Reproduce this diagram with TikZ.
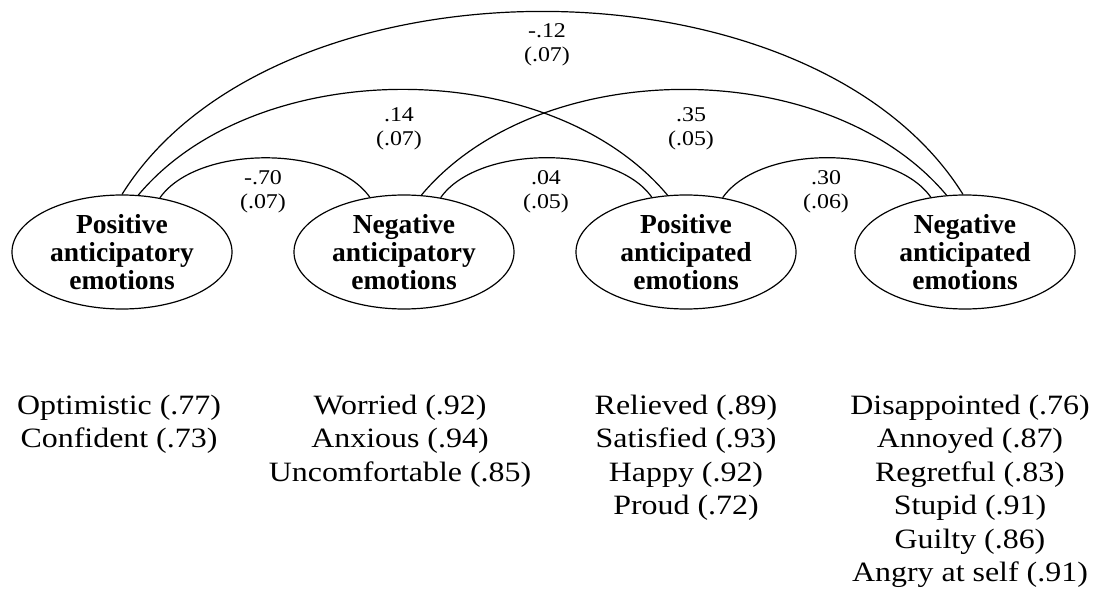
\documentclass[tikz,border=0pt]{standalone}
\usepackage{fontspec}
\setmainfont{Liberation Serif}
\newfontfamily\widefont[FakeStretch=1.14]{Liberation Serif}
\usetikzlibrary{shapes.geometric}
\begin{document}
\begin{tikzpicture}[x=1pt,y=-1pt,
  latent/.style={draw, ellipse, line width=1.2pt, minimum width=220pt, minimum height=114pt,
    inner sep=0pt, align=center, font=\fontsize{27.5}{28}\selectfont\bfseries},
  corr/.style={line width=1.2pt},
  coef/.style={anchor=north, align=center, inner sep=0pt, font=\widefont\fontsize{21}{24}\selectfont},
  items/.style={anchor=north, align=center, inner sep=0pt, font=\widefont\fontsize{28}{33.5}\selectfont}]
\path[use as bounding box] (0,0) rectangle (1097,601);

\node[latent] (e1) at (122,252) {Positive\\anticipatory\\emotions};
\node[latent] (e2) at (404,252) {Negative\\anticipatory\\emotions};
\node[latent] (e3) at (686,252) {Positive\\anticipated\\emotions};
\node[latent] (e4) at (965,252) {Negative\\anticipated\\emotions};

\draw[corr] (e1.90) .. controls +(152,-244) and +(-152,-244) .. (e4.92);
\draw[corr] (e1.74) .. controls +(118,-141) and +(-118,-141) .. (e3.108);
\draw[corr] (e2.73) .. controls +(118,-141) and +(-118,-141) .. (e4.108);
\draw[corr] (e1.55) .. controls +(37,-53) and +(-37,-53) .. (e2.122);
\draw[corr] (e2.56) .. controls +(37,-53) and +(-37,-53) .. (e3.122);
\draw[corr] (e3.56) .. controls +(37,-53) and +(-37,-53) .. (e4.122);

\node[coef] (c14) at (547,21) {\strut-.12\\(.07)};
\node[coef] (c13) at (399,105) {\strut.14\\(.07)};
\node[coef] (c24) at (691,105) {\strut.35\\(.05)};
\node[coef] (c12) at (263,168) {\strut-.70\\(.07)};
\node[coef] (c23) at (546,168) {\strut.04\\(.05)};
\node[coef] (c34) at (826,168) {\strut.30\\(.06)};

\node[items] (i1) at (119,390.5) {\strut Optimistic (.77)\\Confident (.73)};
\node[items] (i2) at (400,390.5) {\strut Worried (.92)\\Anxious (.94)\\Uncomfortable (.85)};
\node[items] (i3) at (686,390.5) {\strut Relieved (.89)\\Satisfied (.93)\\Happy (.92)\\Proud (.72)};
\node[items] (i4) at (970,390.5) {\strut Disappointed (.76)\\Annoyed (.87)\\Regretful (.83)\\Stupid (.91)\\Guilty (.86)\\Angry at self (.91)};
\end{tikzpicture}
\end{document}
